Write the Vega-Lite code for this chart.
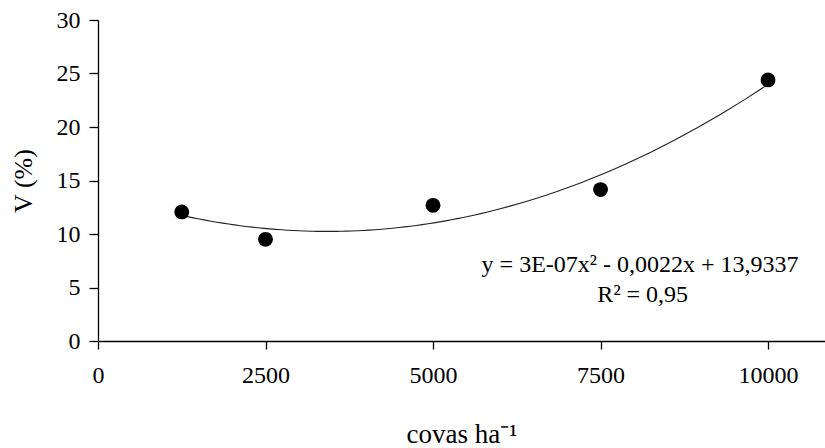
{
  "$schema": "https://vega.github.io/schema/vega-lite/v6.json",
  "width": 727,
  "height": 321,
  "autosize": "none",
  "padding": {"left": 98, "top": 20, "right": 0, "bottom": 107},
  "background": "white",
  "config": {
    "view": {"stroke": null},
    "font": "Liberation Serif",
    "axis": {"grid": false, "domainColor": "black", "tickColor": "black", "labelColor": "black", "titleColor": "black", "labelFont": "Liberation Serif", "titleFont": "Liberation Serif", "titleFontWeight": "normal", "labelFontWeight": "normal", "labelFontSize": 24, "titleFontSize": 26, "domainWidth": 1.3, "tickWidth": 1.3}
  },
  "data": {
    "values": [
      {"covas": 1250, "V": 12.06},
      {"covas": 2500, "V": 9.5},
      {"covas": 5000, "V": 12.68},
      {"covas": 7500, "V": 14.15},
      {"covas": 10000, "V": 24.4}
    ]
  },
  "layer": [
    {
      "transform": [{"regression": "V", "on": "covas", "method": "poly", "order": 2}],
      "mark": {"type": "line", "color": "#222", "strokeWidth": 1.1},
      "encoding": {
        "x": {"field": "covas", "type": "quantitative", "scale": {"domain": [0, 10850], "nice": false, "zero": false},
          "axis": {"values": [0, 2500, 5000, 7500, 10000], "format": "d", "tickSize": 8, "labelPadding": 14, "title": "covas ha⁻¹", "titleFontSize": 27, "titleY": 101, "titleBaseline": "alphabetic", "labelFlush": false}},
        "y": {"field": "V", "type": "quantitative", "scale": {"domain": [0, 30], "nice": false},
          "axis": {"values": [0, 5, 10, 15, 20, 25, 30], "format": "d", "tickSize": 9, "labelPadding": 9, "title": "V (%)", "titlePadding": 20}}
      }
    },
    {
      "mark": {"type": "circle", "color": "black", "opacity": 1, "size": 220},
      "encoding": {
        "x": {"field": "covas", "type": "quantitative"},
        "y": {"field": "V", "type": "quantitative"}
      }
    },
    {
      "data": {"values": [{"eq": "y = 3E-07x² - 0,0022x + 13,9337"}]},
      "mark": {"type": "text", "font": "Liberation Serif", "fontSize": 24, "fontWeight": "normal", "color": "black", "baseline": "middle", "align": "center"},
      "encoding": {
        "x": {"datum": 8090, "type": "quantitative"},
        "y": {"datum": 7.08, "type": "quantitative"},
        "text": {"field": "eq"}
      }
    },
    {
      "data": {"values": [{"eq": "R² = 0,95"}]},
      "mark": {"type": "text", "font": "Liberation Serif", "fontSize": 24, "fontWeight": "normal", "color": "black", "baseline": "middle", "align": "center"},
      "encoding": {
        "x": {"datum": 8130, "type": "quantitative"},
        "y": {"datum": 4.27, "type": "quantitative"},
        "text": {"field": "eq"}
      }
    }
  ]
}
